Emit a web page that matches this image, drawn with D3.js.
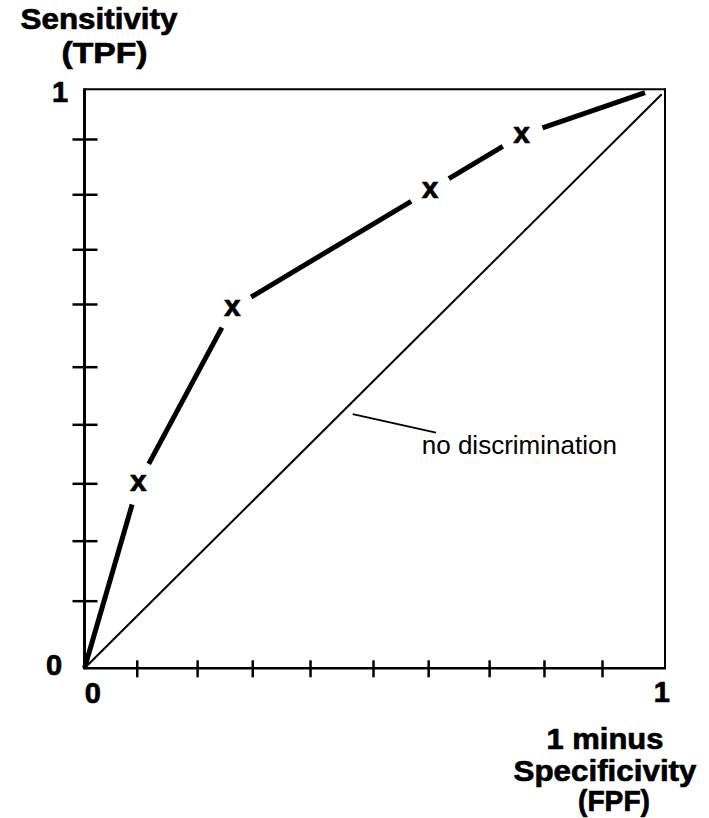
<!DOCTYPE html>
<html>
<head>
<meta charset="utf-8">
<script src="https://cdn.jsdelivr.net/npm/d3@7"></script>
<style>
  html, body { margin: 0; padding: 0; background: #fff; }
  svg { display: block; }
  text { font-family: "Liberation Sans", Arial, Helvetica, sans-serif; fill: #000; }
</style>
</head>
<body>
<svg id="chart" width="709" height="818"></svg>
<script>
// ---- data ----
const xTickValues = [0.09, 0.194, 0.289, 0.3885, 0.497, 0.592, 0.697, 0.7915, 0.8915];
const yTickValues = [0.1168, 0.2204, 0.3195, 0.4214, 0.5209, 0.6292, 0.7237, 0.8187, 0.9142];
const axisEndLabels = ["0", "1"];
// ROC curve vertices (FPF, TPF); marked operating points flagged
const rocFPF = [0, 0.0927, 0.2546, 0.5952, 0.7531, 0.9655];
const rocTPF = [0, 0.3195, 0.6218, 0.8261, 0.9211, 0.9941];
const rocMarked = [false, true, true, true, true, false];
const chanceLine = [[0, 0], [0.9943, 0.9914]];
const annotationText = "no discrimination";
const annotationLeader = [[0.462, 0.439], [0.6055, 0.407]];
const annotationPos = [0.581, 0.370];
const yTitle = ["Sensitivity", "(TPF)"];
const xTitle = ["1 minus", "Specificivity", "(FPF)"];

// ---- layout ----
const svg = d3.select("#chart");
const x = d3.scaleLinear().domain([0, 1]).range([84.5, 665]);
const y = d3.scaleLinear().domain([0, 1]).range([668.3, 89.3]);

// frame (top/right thinner)
svg.append("line").attr("x1", x(0)).attr("x2", x(1)).attr("y1", y(1)).attr("y2", y(1))
  .attr("stroke", "#000").attr("stroke-width", 2);
svg.append("line").attr("x1", x(1)).attr("x2", x(1)).attr("y1", y(1) - 1).attr("y2", y(0))
  .attr("stroke", "#000").attr("stroke-width", 2);

// axes ticks via d3 axes (ticks cross the axis line)
const xAxis = d3.axisBottom(x).tickValues(xTickValues).tickSize(17).tickFormat("");
const gx = svg.append("g").attr("transform", `translate(0,${y(0) - 8})`).call(xAxis);
gx.select(".domain").remove();
gx.selectAll(".tick line").attr("stroke", "#000").attr("stroke-width", 2.5);

const yAxis = d3.axisLeft(y).tickValues(yTickValues).tickSize(25).tickFormat("");
const gy = svg.append("g").attr("transform", `translate(${x(0) + 13},0)`).call(yAxis);
gy.select(".domain").remove();
gy.selectAll(".tick line").attr("stroke", "#000").attr("stroke-width", 2.5);

// main axis lines
svg.append("line").attr("x1", x(0)).attr("x2", x(0)).attr("y1", y(1) - 1).attr("y2", y(0) + 1)
  .attr("stroke", "#000").attr("stroke-width", 3);
svg.append("line").attr("x1", x(0) - 1).attr("x2", x(1) + 1).attr("y1", y(0)).attr("y2", y(0))
  .attr("stroke", "#000").attr("stroke-width", 2.6);

// chance diagonal
svg.append("line")
  .attr("x1", x(chanceLine[0][0])).attr("y1", y(chanceLine[0][1]))
  .attr("x2", x(chanceLine[1][0])).attr("y2", y(chanceLine[1][1]))
  .attr("stroke", "#000").attr("stroke-width", 2);

// ROC curve: segments between vertices, with gaps around marked points
const gap = 22;
const pts = rocFPF.map((v, i) => ({ px: x(v), py: y(rocTPF[i]), marked: rocMarked[i] }));
const segs = d3.pairs(pts).map(([a, b]) => {
  const dx = b.px - a.px, dy = b.py - a.py, L = Math.hypot(dx, dy);
  const ux = dx / L, uy = dy / L;
  const s = a.marked ? gap : 0, e = b.marked ? gap : 0;
  return { x1: a.px + ux * s, y1: a.py + uy * s, x2: b.px - ux * e, y2: b.py - uy * e };
});
svg.append("g").selectAll("line").data(segs).join("line")
  .attr("x1", d => d.x1).attr("y1", d => d.y1).attr("x2", d => d.x2).attr("y2", d => d.y2)
  .attr("stroke", "#000").attr("stroke-width", 5).attr("stroke-linecap", "butt");

// heavy bold text helper (reference glyphs are heavier than plain bold)
const heavy = sel => sel.attr("font-weight", "bold").attr("stroke", "#000")
  .attr("stroke-width", 0.7).attr("stroke-linejoin", "round");

// markers "x"
svg.append("g").selectAll("text").data(pts.filter(p => p.marked)).join("text")
  .attr("x", d => d.px).attr("y", d => d.py + 7.8)
  .attr("text-anchor", "middle").attr("font-size", 30).call(heavy)
  .text("x");

// annotation
svg.append("line")
  .attr("x1", x(annotationLeader[0][0])).attr("y1", y(annotationLeader[0][1]))
  .attr("x2", x(annotationLeader[1][0])).attr("y2", y(annotationLeader[1][1]))
  .attr("stroke", "#000").attr("stroke-width", 2);
svg.append("text").attr("x", x(annotationPos[0])).attr("y", y(annotationPos[1]))
  .attr("font-size", 26).text(annotationText);

// axis end labels
svg.append("text").attr("x", 54).attr("y", 675).attr("text-anchor", "middle")
  .attr("font-size", 29).call(heavy).text(axisEndLabels[0]);
svg.append("text").attr("x", 60).attr("y", 101.7).attr("text-anchor", "middle")
  .attr("font-size", 29).call(heavy).text(axisEndLabels[1]);
svg.append("text").attr("x", 92.8).attr("y", 703).attr("text-anchor", "middle")
  .attr("font-size", 29).call(heavy).text(axisEndLabels[0]);
svg.append("text").attr("x", 661.7).attr("y", 701.7).attr("text-anchor", "middle")
  .attr("font-size", 29).call(heavy).text(axisEndLabels[1]);

// titles
const yTitlePos = [[99, 29.3, 157], [104.5, 63.3, 86]];
yTitle.forEach((t, i) => svg.append("text").attr("x", yTitlePos[i][0]).attr("y", yTitlePos[i][1])
  .attr("text-anchor", "middle").attr("font-size", 30).call(heavy)
  .attr("textLength", yTitlePos[i][2]).attr("lengthAdjust", "spacingAndGlyphs").text(t));
const xTitlePos = [[605, 749, 117], [605, 781, 183], [614, 811, 72]];
xTitle.forEach((t, i) => svg.append("text").attr("x", xTitlePos[i][0]).attr("y", xTitlePos[i][1])
  .attr("text-anchor", "middle").attr("font-size", 30).call(heavy)
  .attr("textLength", xTitlePos[i][2]).attr("lengthAdjust", "spacingAndGlyphs").text(t));
</script>
</body>
</html>
